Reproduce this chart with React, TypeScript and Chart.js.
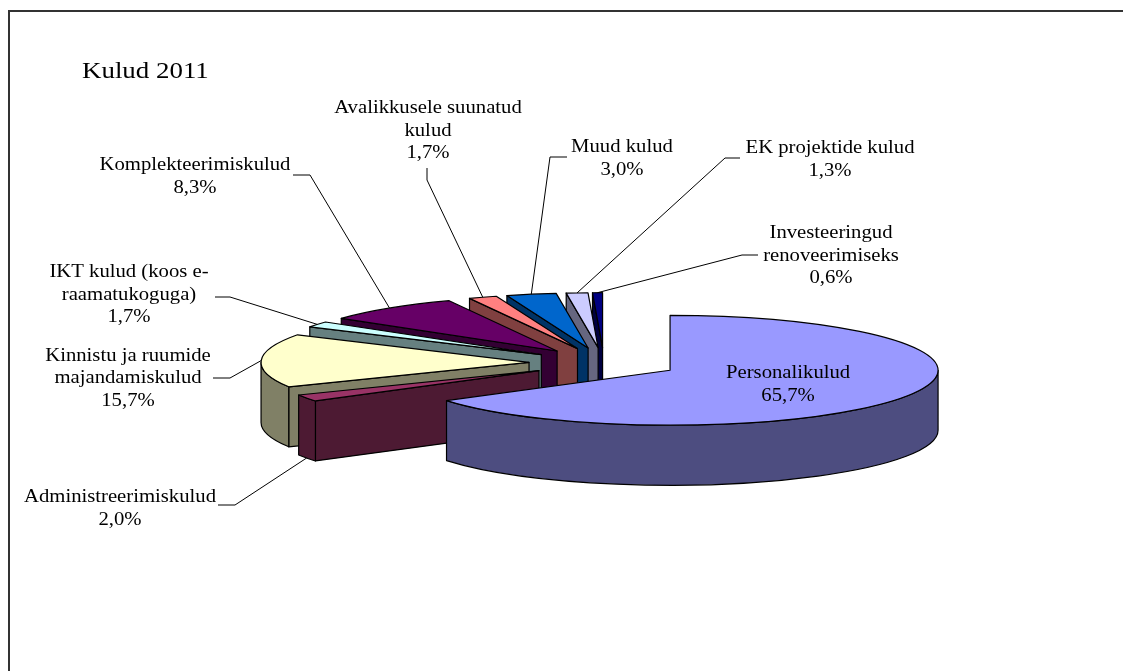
import React, { useEffect, useRef } from "react";
import { Chart, registerables } from "chart.js";

Chart.register(...registerables);

// ---------- data ----------
const categories = [
  "Personalikulud",
  "Administreerimiskulud",
  "Kinnistu ja ruumide majandamiskulud",
  "IKT kulud (koos e-raamatukoguga)",
  "Komplekteerimiskulud",
  "Avalikkusele suunatud kulud",
  "Muud kulud",
  "EK projektide kulud",
  "Investeeringud renoveerimiseks",
];
const shares = [65.7, 2.0, 15.7, 1.7, 8.3, 1.7, 3.0, 1.3, 0.6];
const labelLines = [
  ["Personalikulud"],
  ["Administreerimiskulud"],
  ["Kinnistu ja ruumide", "majandamiskulud"],
  ["IKT kulud (koos e-", "raamatukoguga)"],
  ["Komplekteerimiskulud"],
  ["Avalikkusele suunatud", "kulud"],
  ["Muud kulud"],
  ["EK projektide kulud"],
  ["Investeeringud", "renoveerimiseks"],
];
const titleText = "Kulud 2011";

// ---------- styles ----------
const topColors = ["#9999FF", "#993366", "#FFFFCC", "#CCFFFF", "#660066", "#FF8080", "#0066CC", "#CCCCFF", "#000080"];
const sideColors = ["#4D4D80", "#4D1A33", "#808066", "#668080", "#330033", "#804040", "#003366", "#666680", "#000040"];

// ---------- layout (page coordinates) ----------
const CANVAS_W = 1113;
const CANVAS_H = 660;
const ORIGIN = { x: 10, y: 12 }; // canvas top-left on the page
const RADIUS = 268;
const TILT = 0.205;
const DEPTH = 60;
const EXPLODE = 75;
const FONT = '"Liberation Serif", "Times New Roman", serif';
const TEXT_SX = 1.15;
const LH = 22.5;

const labelInside = [true, false, false, false, false, false, false, false, false];
const labelX = [0, 120, 128, 129, 195, 428, 622, 830, 831];
const labelY = [0, 502, 360.5, 277, 170, 113, 152, 153, 238];
const leaderElbows: number[][][] = [
  [],
  [[218, 505], [235, 505]],
  [[213, 378], [230, 378]],
  [[215, 297], [230, 297]],
  [[293, 175], [310, 175]],
  [[427, 168], [427, 180]],
  [[567, 157], [550, 157]],
  [[740, 158], [725, 158]],
  [[758, 255], [742, 255]],
];

const fmtPct = (v: number) => v.toFixed(1).replace(".", ",") + "%";

function geom(el: any) {
  const s = el.startAngle;
  const e = el.endAngle;
  const m = (s + e) / 2;
  const R = el.outerRadius;
  const ax = el.x + EXPLODE * Math.cos(m);
  const ay = el.y + TILT * EXPLODE * Math.sin(m);
  return { s, e, m, R, ax, ay };
}
function pt(g: any, th: number, z: number) {
  return [g.ax + g.R * Math.cos(th), g.ay + TILT * g.R * Math.sin(th) + z];
}

function stretchedText(ctx: CanvasRenderingContext2D, text: string, x: number, y: number, sx: number, align: CanvasTextAlign) {
  ctx.save();
  ctx.translate(x, y);
  ctx.scale(sx, 1);
  ctx.textAlign = align;
  ctx.textBaseline = "alphabetic";
  ctx.fillText(text, 0, 0);
  ctx.restore();
}

const pie3d = {
  id: "pie3d",
  beforeDatasetsDraw(chart: any) {
    const ctx: CanvasRenderingContext2D = chart.ctx;
    const meta = chart.getDatasetMeta(0);
    const faces: { z: number; draw: () => void; color: string }[] = [];
    const tops: { z: number; draw: () => void; color: string }[] = [];
    meta.data.forEach((el: any, i: number) => {
      const g = geom(el);
      const planeY = EXPLODE * Math.sin(g.m);
      const radial = (th: number) => () => {
        const a = pt(g, th, 0);
        const b = pt(g, th, DEPTH);
        ctx.moveTo(g.ax, g.ay);
        ctx.lineTo(a[0], a[1]);
        ctx.lineTo(b[0], b[1]);
        ctx.lineTo(g.ax, g.ay + DEPTH);
        ctx.closePath();
      };
      if (Math.cos(g.s) < -1e-6) faces.push({ z: planeY + 0.5 * g.R * Math.sin(g.s), draw: radial(g.s), color: sideColors[i] });
      if (Math.cos(g.e) > 1e-6) faces.push({ z: planeY + 0.5 * g.R * Math.sin(g.e), draw: radial(g.e), color: sideColors[i] });
      const t1 = Math.max(g.s, 0);
      const t2 = Math.min(g.e, Math.PI);
      if (t2 > t1) {
        faces.push({
          z: planeY + g.R * Math.sin((t1 + t2) / 2),
          color: sideColors[i],
          draw: () => {
            const a = pt(g, t1, 0);
            const b = pt(g, t2, DEPTH);
            ctx.moveTo(a[0], a[1]);
            ctx.ellipse(g.ax, g.ay, g.R, TILT * g.R, 0, t1, t2);
            ctx.lineTo(b[0], b[1]);
            ctx.ellipse(g.ax, g.ay + DEPTH, g.R, TILT * g.R, 0, t2, t1, true);
            ctx.closePath();
          },
        });
      }
      tops.push({
        z: planeY,
        color: topColors[i],
        draw: () => {
          ctx.moveTo(g.ax, g.ay);
          ctx.ellipse(g.ax, g.ay, g.R, TILT * g.R, 0, g.s, g.e);
          ctx.closePath();
        },
      });
    });
    faces.sort((a, b) => a.z - b.z);
    tops.sort((a, b) => a.z - b.z);
    ctx.save();
    ctx.lineWidth = 1.2;
    ctx.strokeStyle = "#000";
    ctx.lineJoin = "round";
    [...faces, ...tops].forEach((f) => {
      ctx.beginPath();
      f.draw();
      ctx.fillStyle = f.color;
      ctx.fill();
      ctx.stroke();
    });
    ctx.restore();
    return false;
  },
  afterDraw(chart: any) {
    const ctx: CanvasRenderingContext2D = chart.ctx;
    const meta = chart.getDatasetMeta(0);
    ctx.save();
    ctx.fillStyle = "#000";
    // title
    ctx.font = `23px ${FONT}`;
    stretchedText(ctx, titleText, 82 - ORIGIN.x, 78 - ORIGIN.y, 1.17, "left");
    ctx.font = `18px ${FONT}`;
    ctx.strokeStyle = "#000";
    ctx.lineWidth = 1;
    meta.data.forEach((el: any, i: number) => {
      const g = geom(el);
      const lines = [...labelLines[i], fmtPct(shares[i])];
      if (labelInside[i]) {
        const cx = g.ax + 0.5 * g.R * Math.cos(g.m);
        const cy = g.ay + 0.5 * TILT * g.R * Math.sin(g.m);
        lines.forEach((ln, j) => {
          stretchedText(ctx, ln, cx, cy + (j - (lines.length - 1) / 2) * LH + 6, TEXT_SX, "center");
        });
        return;
      }
      lines.forEach((ln, j) => {
        stretchedText(ctx, ln, labelX[i] - ORIGIN.x, labelY[i] - ORIGIN.y + j * LH, TEXT_SX, "center");
      });
      const anchor = pt(g, g.m, Math.sin(g.m) > 0 ? DEPTH : 0);
      const el2 = leaderElbows[i];
      ctx.beginPath();
      ctx.moveTo(el2[0][0] - ORIGIN.x, el2[0][1] - ORIGIN.y);
      ctx.lineTo(el2[1][0] - ORIGIN.x, el2[1][1] - ORIGIN.y);
      ctx.lineTo(anchor[0], anchor[1]);
      ctx.stroke();
    });
    ctx.restore();
  },
};

export default function App() {
  const ref = useRef<HTMLCanvasElement>(null);
  useEffect(() => {
    const chart = new Chart(ref.current as HTMLCanvasElement, {
      type: "pie",
      data: {
        labels: categories,
        datasets: [
          {
            data: shares,
            backgroundColor: topColors,
            borderColor: "#000",
            borderWidth: 1,
            radius: RADIUS,
          } as any,
        ],
      },
      options: {
        responsive: false,
        animation: false,
        events: [],
        layout: { padding: { left: 75, top: 42, right: 0, bottom: 0 } },
        plugins: {
          legend: { display: false },
          tooltip: { enabled: false },
          title: { display: false },
        },
      } as any,
      plugins: [pie3d as any],
    });
    return () => chart.destroy();
  }, []);
  return (
    <div
      style={{
        position: "fixed",
        left: 8,
        top: 10,
        right: 0,
        bottom: 0,
        borderLeft: "2px solid #333",
        borderTop: "2px solid #333",
        background: "#fff",
        overflow: "hidden",
      }}
    >
      <canvas ref={ref} width={CANVAS_W} height={CANVAS_H} style={{ display: "block", width: CANVAS_W, height: CANVAS_H }} />
    </div>
  );
}
